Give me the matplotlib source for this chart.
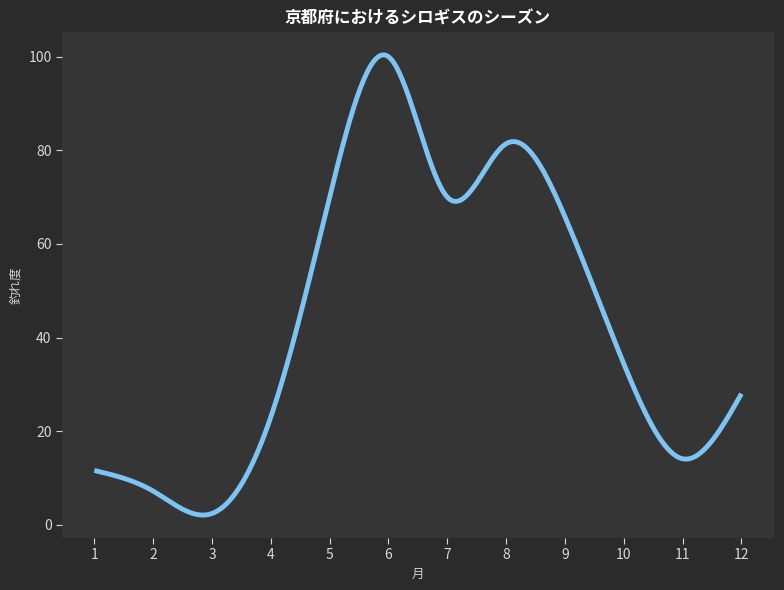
import numpy as np
import matplotlib
matplotlib.use("Agg")
import matplotlib.pyplot as plt

plt.rcParams['font.family'] = ['Noto Sans CJK JP', 'DejaVu Sans']

months = [1, 2, 3, 4, 5, 6, 7, 8, 9, 10, 11, 12]
values = [11.6, 7.2, 2.4, 23, 70, 100, 70, 81.4, 65.8, 34.4, 14.1, 28.0]
title = "京都府におけるシロギスのシーズン"
xlabel = "月"
ylabel = "釣れ度"


def natural_spline(x, y, xs):
    x = np.asarray(x, float); y = np.asarray(y, float)
    n = len(x)
    h = np.diff(x)
    A = np.zeros((n, n)); b = np.zeros(n)
    A[0, 0] = 1; A[-1, -1] = 1
    for i in range(1, n - 1):
        A[i, i - 1] = h[i - 1]
        A[i, i] = 2 * (h[i - 1] + h[i])
        A[i, i + 1] = h[i]
        b[i] = 3 * ((y[i + 1] - y[i]) / h[i] - (y[i] - y[i - 1]) / h[i - 1])
    c = np.linalg.solve(A, b)
    out = np.empty_like(xs)
    for j, t in enumerate(xs):
        i = min(np.searchsorted(x, t, side='right') - 1, n - 2)
        i = max(i, 0)
        dx = t - x[i]
        bi = (y[i + 1] - y[i]) / h[i] - h[i] * (2 * c[i] + c[i + 1]) / 3
        di = (c[i + 1] - c[i]) / (3 * h[i])
        out[j] = y[i] + bi * dx + c[i] * dx ** 2 + di * dx ** 3
    return out


xs = np.linspace(months[0], months[-1], 400)
ys = natural_spline(months, values, xs)

fig = plt.figure(figsize=(7.84, 5.9), dpi=100, facecolor='#2b2b2b')
ax = fig.add_axes([0.079, 0.088, 0.908, 0.858])
ax.set_facecolor('#353535')
ax.plot(xs, ys, color='#7cc4f4', linewidth=3.5, solid_capstyle='butt')
for s in ax.spines.values():
    s.set_visible(False)
ax.set_xticks(months)
ax.set_yticks([0, 20, 40, 60, 80, 100])
ax.tick_params(colors='#d8d8d8', labelsize=10, length=4)
ax.set_title(title, color='white', fontsize=12, fontweight='bold', pad=6)
ax.set_xlabel(xlabel, color='#d0d0d0', fontsize=9)
ax.set_ylabel(ylabel, color='#d0d0d0', fontsize=9)
fig.savefig('out.png', dpi=100, facecolor=fig.get_facecolor())
